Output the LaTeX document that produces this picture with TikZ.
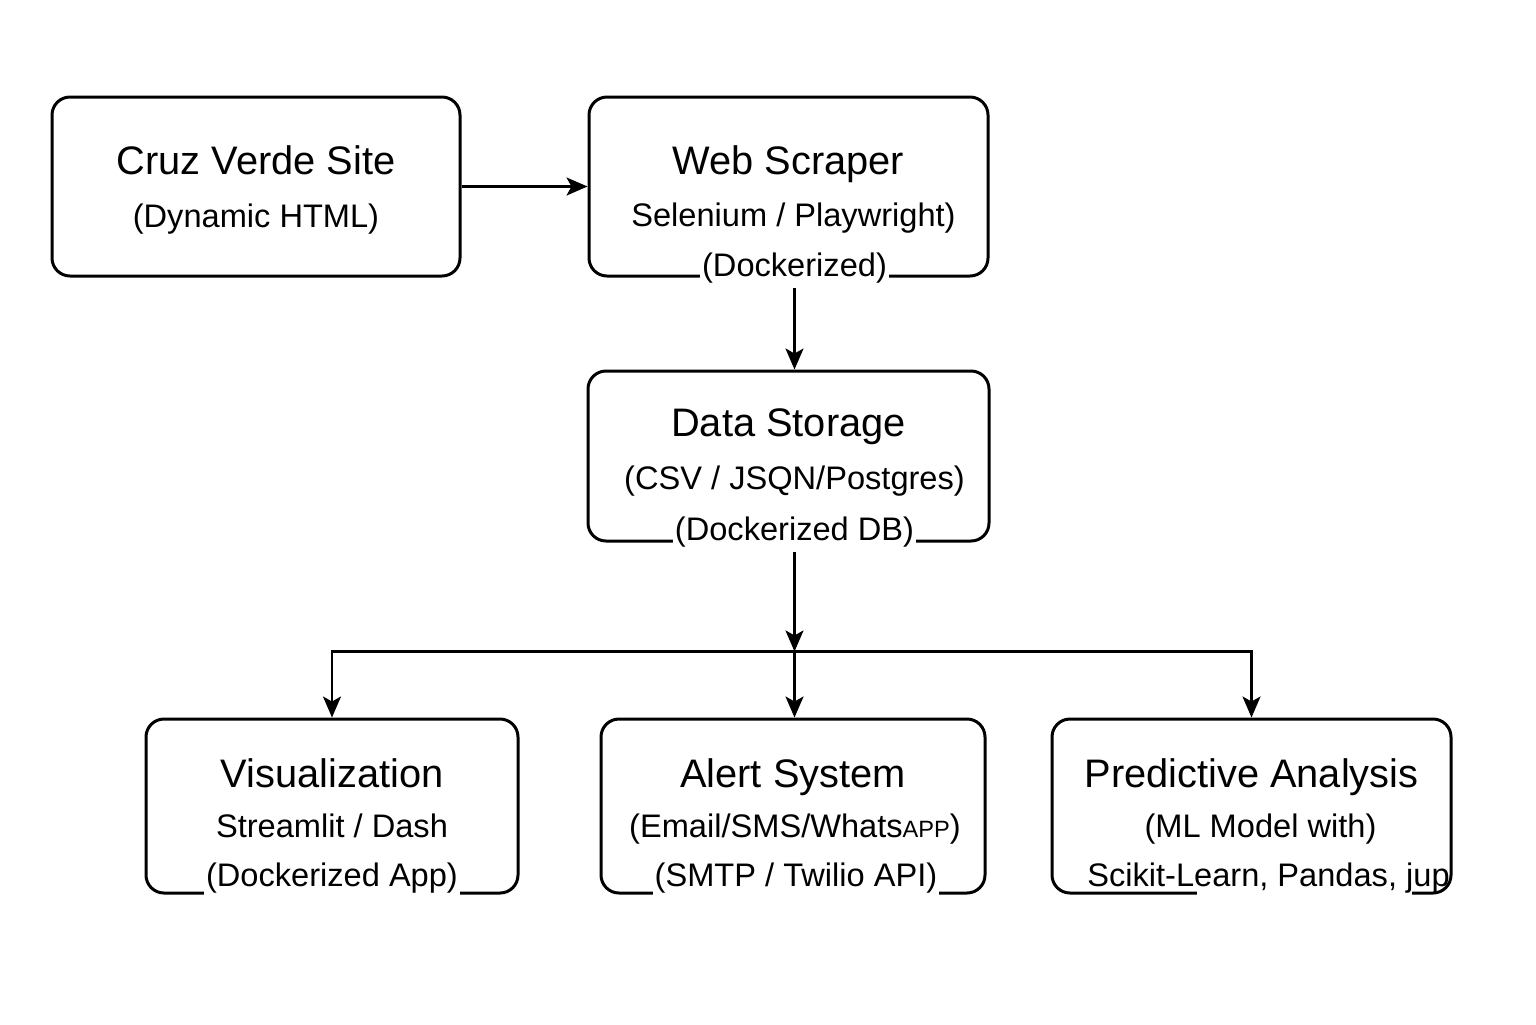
\documentclass[tikz,border=0pt]{standalone}
\usepackage{fontspec}
\setmainfont{Liberation Sans}
\usetikzlibrary{arrows.meta,positioning}
\tikzstyle{block} = [draw, rectangle, rounded corners=9pt, line width=1.5pt, inner sep=0, minimum height=87pt]
\tikzstyle{title} = [anchor=base, inner sep=0, font=\fontsize{19.9}{23}\selectfont]
\tikzstyle{detail} = [anchor=base, inner sep=0, font=\fontsize{16.3}{19}\selectfont]
\tikzstyle{footer} = [detail, fill=white, inner xsep=1pt, inner ysep=2pt]
\tikzstyle{bus} = [coordinate]
\newcommand{\smallcap}[1]{{\fontsize{11.8}{14}\selectfont #1}}

\begin{document}
\begin{tikzpicture}[x=0.5pt, y=-0.5pt, >={Stealth[length=10.5pt,width=9pt,inset=2.5pt]}, line width=1.2pt]
  \useasboundingbox (0,0) rectangle (1536,1024);

  % top row
  \node [block, minimum width=204pt, minimum height=89.5pt] (cruz) at (256,186.5) {};
  \node [block, minimum width=199.5pt, minimum height=89.5pt, right=63pt of cruz] (scraper) {};
  \node [block, minimum width=200.5pt, minimum height=85pt, below=46pt of scraper] (storage) {};

  % bottom row
  \node [block, minimum width=192pt, below=87.5pt of storage, xshift=2.25pt] (alert) {};
  \node [block, minimum width=186pt, left=40pt of alert] (viz) {};
  \node [block, minimum width=199.5pt, right=32pt of alert] (predict) {};

  % texts
  \node [title] (cruztitle) at ([yshift=-39.5pt]cruz.north) {Cruz Verde Site};
  \node [detail] (cruzsub) at ([yshift=-66pt]cruz.north) {(Dynamic HTML)};

  \node [title] (scrapertitle) at ([yshift=-39.5pt]scraper.north) {Web Scraper};
  \node [detail] (scrapersub) at ([xshift=2.5pt,yshift=-65.5pt]scraper.north) {Selenium / Playwright)};
  \node [footer] (scraperfoot) at ([xshift=3pt,yshift=0.5pt]scraper.south) {(Dockerized)};

  \node [title] (storagetitle) at ([yshift=-33.5pt]storage.north) {Data Storage};
  \node [detail] (storagesub) at ([xshift=3pt,yshift=-60pt]storage.north) {(CSV / JSQN/Postgres)};
  \node [footer] (storagefoot) at ([xshift=3pt,yshift=1pt]storage.south) {(Dockerized DB)};
  \node [bus] (fanout) at ([yshift=-49.5pt]storagefoot.south) {};

  \node [title] (viztitle) at ([yshift=-35pt]viz.north) {Visualization};
  \node [detail] (vizsub) at ([yshift=-60pt]viz.north) {Streamlit / Dash};
  \node [footer] (vizfoot) at ([yshift=4pt]viz.south) {(Dockerized App)};

  \node [title] (alerttitle) at ([yshift=-35pt]alert.north) {Alert System};
  \node [detail] (alertsub) at ([xshift=1pt,yshift=-60pt]alert.north) {(Email/SMS/Whats\smallcap{APP})};
  \node [footer] (alertfoot) at ([xshift=1.5pt,yshift=4pt]alert.south) {(SMTP / Twilio API)};

  \fill [white] (1197,889) rectangle (1412,897);
  \node [title] (predicttitle) at ([yshift=-35pt]predict.north) {Predictive Analysis};
  \node [detail] (predictsub) at ([xshift=4.5pt,yshift=-60pt]predict.north) {(ML Model with)};
  \node [detail] (predictfoot) at ([xshift=8.5pt,yshift=4pt]predict.south) {Scikit-Learn, Pandas, jup};

  % connectors
  \draw [->] (cruz) -- (scraper);
  \draw [->] (scraperfoot) -- (scraperfoot |- storage.north);
  \draw [->] (storagefoot) -- (fanout);
  \draw [->] (fanout) -| (viz);
  \draw [->] (fanout) -- (fanout |- alert.north);
  \draw [->] (fanout) -| (predict);
\end{tikzpicture}
\end{document}
